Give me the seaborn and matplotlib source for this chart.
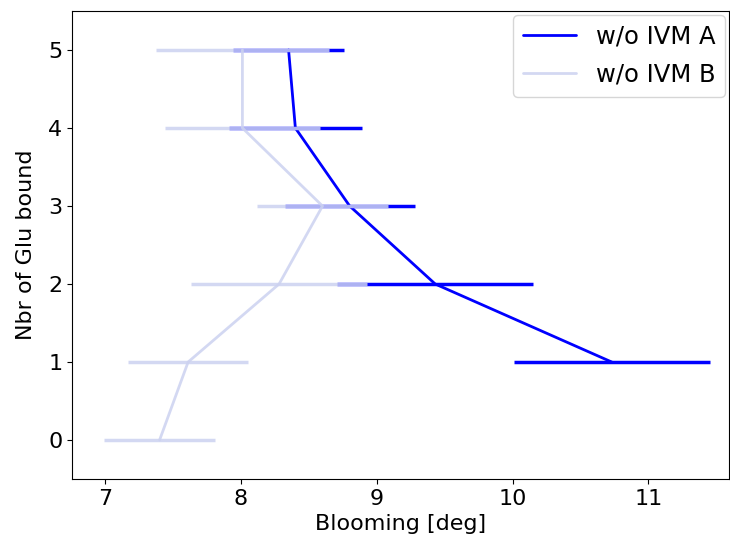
import numpy as np
import pandas as pd
import matplotlib
matplotlib.use('Agg')
import matplotlib.pyplot as plt
import seaborn as sns

# Nbr of Glu bound vs blooming angle (mean, half-width of spread)
glu_a = [1, 2, 3, 4, 5]
bloom_a = [10.73, 9.43, 8.80, 8.40, 8.35]
err_a = [0.72, 0.72, 0.48, 0.49, 0.41]

glu_b = [0, 1, 2, 3, 4, 5]
bloom_b = [7.40, 7.61, 8.28, 8.60, 8.01, 8.01]
err_b = [0.41, 0.44, 0.645, 0.48, 0.57, 0.64]

col_a = '#0000ff'
col_b = '#ccd2f0'

sns.set_style('ticks', {'axes.edgecolor': 'black', 'text.color': 'black',
                        'xtick.color': 'black', 'ytick.color': 'black',
                        'axes.labelcolor': 'black'})
plt.rcParams['font.family'] = ['DejaVu Sans']

fig = plt.figure(figsize=(7.3, 5.5), dpi=100)
ax = fig.add_axes([0.099, 0.129, 0.899, 0.851])

df_a = pd.DataFrame({'bloom': bloom_a, 'glu': glu_a})
df_b = pd.DataFrame({'bloom': bloom_b, 'glu': glu_b})

sns.lineplot(data=df_a, x='bloom', y='glu', orient='y', sort=False,
             color=col_a, lw=2, label='w/o IVM A', ax=ax)
ax.errorbar(bloom_a, glu_a, xerr=err_a, fmt='none', ecolor=col_a, elinewidth=2.5)
sns.lineplot(data=df_b, x='bloom', y='glu', orient='y', sort=False,
             color=col_b, lw=2, alpha=0.85, label='w/o IVM B', ax=ax)
ax.errorbar(bloom_b, glu_b, xerr=err_b, fmt='none', ecolor=col_b, elinewidth=2.5, alpha=0.85)

ax.set_xlim(6.757, 11.59)
ax.set_ylim(-0.5, 5.5)
ax.set_xlabel('Blooming [deg]', fontsize=16)
ax.set_ylabel('Nbr of Glu bound', fontsize=16, labelpad=9)
ax.tick_params(labelsize=16, colors='black')
ax.legend(fontsize=17.5, loc='upper right', borderaxespad=0.15,
          labelspacing=0.6, handlelength=2.2)

plt.savefig('out.png', dpi=100)
